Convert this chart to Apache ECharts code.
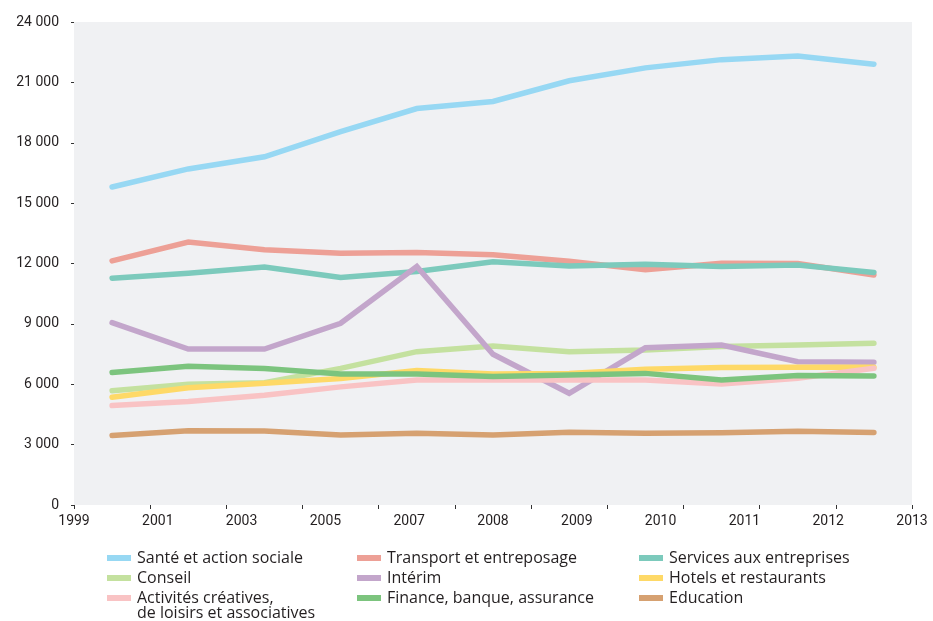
<!DOCTYPE html>
<html>
<head>
<meta charset="utf-8">
<script src="https://cdn.jsdelivr.net/npm/echarts@6/dist/echarts.min.js"></script>
<style>
  html, body { margin: 0; padding: 0; background: #ffffff; }
  #chart { width: 933px; height: 621px; }
</style>
</head>
<body>
<div id="chart"></div>
<script>
// Survey points (11 observations between the first and last year mark)
const categories = ['p1', 'p2', 'p3', 'p4', 'p5', 'p6', 'p7', 'p8', 'p9', 'p10', 'p11'];

// Year labels spread evenly under the axis
const yearLabels = ['1999', '2001', '2003', '2005', '2007', '2008', '2009', '2010', '2011', '2012', '2013'];

// Employment by sector
const sante      = [15800, 16700, 17300, 18550, 19700, 20050, 21080, 21720, 22130, 22310, 21900];
const transport  = [12130, 13070, 12680, 12510, 12550, 12430, 12110, 11690, 12010, 12000, 11430];
const services   = [11270, 11510, 11830, 11310, 11600, 12090, 11880, 11960, 11850, 11930, 11550];
const conseil    = [5680, 6000, 6080, 6790, 7620, 7900, 7620, 7700, 7870, 7950, 8040];
const interim    = [9060, 7750, 7750, 9030, 11850, 7490, 5550, 7810, 7950, 7120, 7090];
const hotels     = [5350, 5830, 6050, 6290, 6680, 6510, 6540, 6740, 6830, 6840, 6840];
const activites  = [4940, 5140, 5450, 5870, 6210, 6210, 6210, 6210, 6010, 6300, 6790];
const finance    = [6580, 6890, 6780, 6510, 6510, 6380, 6460, 6540, 6210, 6430, 6410];
const education  = [3450, 3690, 3680, 3480, 3560, 3480, 3610, 3560, 3590, 3660, 3600];

const seriesDefs = [
  { name: 'Santé et action sociale', data: sante, color: '#97d8f3' },
  { name: 'Transport et entreposage', data: transport, color: '#eda096' },
  { name: 'Services aux entreprises', data: services, color: '#7ccabc' },
  { name: 'Conseil', data: conseil, color: '#c4e19f' },
  { name: 'Intérim', data: interim, color: '#c3a6cb' },
  { name: 'Hotels et restaurants', data: hotels, color: '#fed967' },
  { name: 'Activités créatives, de loisirs et associatives', data: activites, color: '#f9c3c4' },
  { name: 'Finance, banque, assurance', data: finance, color: '#7cc47e' },
  { name: 'Education', data: education, color: '#d6a171' }
];

const ACTIVITES = 'Activités créatives, de loisirs et associatives';
const axisFont = 'Roboto, "Open Sans", sans-serif';
const legendFont = '"Open Sans", "Noto Sans", sans-serif';

function spaced(v) {
  return String(v).replace(/\B(?=(\d{3})+(?!\d))/g, ' ');
}

function legendCol(names, left) {
  return {
    orient: 'vertical',
    left: left,
    top: 544,
    itemWidth: 24,
    itemHeight: 6,
    itemGap: 2,
    icon: 'rect',
    selectedMode: false,
    data: names,
    formatter: n => (n === ACTIVITES ? 'Activités créatives,' : n),
    textStyle: { fontFamily: legendFont, fontSize: 16, color: '#231f20', lineHeight: 18, padding: [0, 0, 0, 1] }
  };
}

const chart = echarts.init(document.getElementById('chart'), null, { renderer: 'canvas' });

chart.setOption({
  animation: false,
  backgroundColor: '#ffffff',
  grid: {
    left: 74, right: 21, top: 22, bottom: 116,
    show: true, backgroundColor: '#f0f1f3', borderWidth: 0
  },
  legend: [
    legendCol(['Santé et action sociale', 'Conseil', ACTIVITES], 102),
    legendCol(['Transport et entreposage', 'Intérim', 'Finance, banque, assurance'], 352),
    legendCol(['Services aux entreprises', 'Hotels et restaurants', 'Education'], 634)
  ],
  graphic: [{
    type: 'text',
    left: 137,
    top: 605,
    style: { text: 'de loisirs et associatives', font: '16px ' + legendFont, fill: '#231f20' }
  }],
  xAxis: [
    {
      type: 'category',
      data: categories,
      boundaryGap: true,
      position: 'bottom',
      axisLine: { show: false },
      axisTick: { show: true, length: 4, lineStyle: { color: '#333' } },
      axisLabel: { show: false },
      splitLine: { show: false }
    },
    {
      type: 'value',
      min: 0, max: yearLabels.length - 1, interval: 1,
      position: 'bottom',
      axisLine: { show: false },
      axisTick: { show: false },
      splitLine: { show: false },
      axisLabel: {
        margin: 9,
        fontFamily: axisFont, fontSize: 14, color: '#231f20',
        formatter: v => yearLabels[v]
      }
    }
  ],
  yAxis: {
    type: 'value',
    min: 0, max: 24000, interval: 3000,
    axisLine: { show: false },
    axisTick: { show: true, length: 3, lineStyle: { color: '#333' } },
    splitLine: { show: false },
    axisLabel: {
      margin: 15,
      fontFamily: axisFont, fontSize: 14, color: '#231f20',
      formatter: v => spaced(v)
    }
  },
  series: seriesDefs.map(s => ({
    name: s.name,
    type: 'line',
    xAxisIndex: 0,
    data: s.data,
    showSymbol: false,
    symbol: 'none',
    color: s.color,
    lineStyle: { width: 5.5, color: s.color, cap: 'round', join: 'miter' }
  }))
});
</script>
</body>
</html>
